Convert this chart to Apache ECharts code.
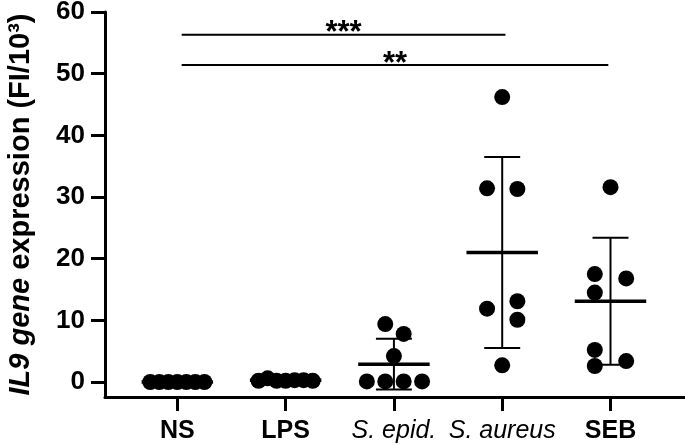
<!DOCTYPE html>
<html>
<head>
<meta charset="utf-8">
<title>IL9 gene expression</title>
<script src="https://cdn.jsdelivr.net/npm/echarts@6/dist/echarts.min.js"></script>
<style>
  html, body { margin: 0; padding: 0; background: #fff; }
  #main { width: 685px; height: 445px; }
</style>
</head>
<body>
<div id="main"></div>
<script>
// groups on the x axis (1..5)
var categories = ['NS', 'LPS', 'S. epid.', 'S. aureus', 'SEB'];
var italicCategories = ['S. epid.', 'S. aureus'];

// individual donors per group (FI/10^3)
var nsValues      = [0, 0, 0, 0, 0, 0, 0];
var lpsValues     = [0.2, 0.6, 0.2, 0.2, 0.3, 0.3, 0.2];
var sEpidValues   = [0.1, 0.1, 0.1, 0.1, 9.4, 7.8, 4.2];
var sAureusValues = [46.2, 31.4, 31.3, 11.9, 13.1, 10.1, 2.7];
var sebValues     = [31.6, 17.5, 16.8, 14.5, 5.2, 2.6, 3.4];

// horizontal scatter of the dots inside a group (x units)
var nsJitter      = [-0.25, -0.166, -0.083, 0, 0.083, 0.166, 0.25];
var lpsJitter     = [-0.25, -0.166, -0.083, 0, 0.083, 0.166, 0.25];
var sEpidJitter   = [-0.25, -0.08, 0.09, 0.26, -0.08, 0.09, 0];
var sAureusJitter = [0, -0.14, 0.14, -0.14, 0.14, 0.14, 0];
var sebJitter     = [0, -0.145, 0.145, -0.145, -0.145, -0.145, 0.145];

// mean and SD per group
var groupMeans = [0, 0.3, 2.9, 21.0, 13.1];
var groupSDs   = [0, 0.15, 4.1, 15.5, 10.3];

// y ticks
var yTicks = [0, 10, 20, 30, 40, 50, 60];

// significance brackets
var sigFrom  = [1.04, 1.04];
var sigTo    = [4.03, 4.98];
var sigLevel = [56.3, 51.4];
var sigText  = ['***', '**'];

var allValues = [nsValues, lpsValues, sEpidValues, sAureusValues, sebValues];
var allJitter = [nsJitter, lpsJitter, sEpidJitter, sAureusJitter, sebJitter];

var dots = [];
allValues.forEach(function (vals, g) {
    vals.forEach(function (v, i) {
        dots.push([g + 1 + allJitter[g][i], v]);
    });
});

var barData = groupMeans.map(function (m, g) {
    return [g + 1, m, groupSDs[g]];
});

var sigData = sigFrom.map(function (x1, i) {
    return [x1, sigTo[i], sigLevel[i]];
});

var font = "'Liberation Sans', Arial, sans-serif";

var myChart = echarts.init(document.getElementById('main'));
myChart.setOption({
    animation: false,
    grid: { left: 105, right: 0, top: 12, bottom: 48, outerBoundsMode: 'none', containLabel: false },
    xAxis: {
        type: 'value',
        min: 0.332,
        max: 5.688,
        splitLine: { show: false },
        axisLine: { onZero: false, lineStyle: { color: '#000', width: 3 } },
        axisTick: {
            customValues: [1, 2, 3, 4, 5],
            length: 14,
            lineStyle: { color: '#000', width: 3 }
        },
        axisLabel: {
            customValues: [1, 2, 3, 4, 5],
            margin: 22,
            formatter: function (v) {
                var name = categories[Math.round(v) - 1];
                return italicCategories.indexOf(name) >= 0 ? '{i|' + name + '}' : '{b|' + name + '}';
            },
            rich: {
                b: { fontFamily: font, fontSize: 25, fontWeight: 'bold', color: '#000' },
                i: { fontFamily: font, fontSize: 25, fontStyle: 'italic', color: '#000' }
            }
        }
    },
    yAxis: {
        type: 'value',
        min: -2.43,
        max: 60,
        splitLine: { show: false },
        axisLine: { show: true, onZero: false, lineStyle: { color: '#000', width: 3 } },
        axisTick: {
            show: true,
            customValues: yTicks,
            length: 14,
            lineStyle: { color: '#000', width: 3 }
        },
        axisLabel: {
            customValues: yTicks,
            margin: 20,
            color: '#000',
            fontFamily: font,
            fontSize: 26,
            fontWeight: 'bold'
        },
        name: '{i|IL9 gene }{b|expression (FI/10³)}',
        nameLocation: 'middle',
        nameRotate: 90,
        nameGap: 70,
        nameTextStyle: {
            fontSize: 29,
            rich: {
                i: { fontFamily: font, fontSize: 29, fontWeight: 'bold', fontStyle: 'italic', color: '#000' },
                b: { fontFamily: font, fontSize: 29, fontWeight: 'bold', color: '#000' }
            }
        }
    },
    series: [
        {
            type: 'scatter',
            data: dots,
            symbolSize: 16,
            itemStyle: { color: '#000', opacity: 1 },
            z: 2
        },
        {
            // mean line with SD whiskers
            type: 'custom',
            data: barData,
            z: 3,
            renderItem: function (params, api) {
                var x = api.value(0), m = api.value(1), s = api.value(2);
                var c = api.coord([x, m]);
                var top = api.coord([x, m + s]);
                var bot = api.coord([x, m - s]);
                var half = api.size([0.33, 0])[0];
                var cap = api.size([0.166, 0])[0];
                var st = { stroke: '#000', lineWidth: 2 };
                return {
                    type: 'group',
                    children: [
                        { type: 'line', shape: { x1: c[0], y1: top[1], x2: c[0], y2: bot[1] }, style: st },
                        { type: 'line', shape: { x1: c[0] - cap, y1: top[1], x2: c[0] + cap, y2: top[1] }, style: st },
                        { type: 'line', shape: { x1: c[0] - cap, y1: bot[1], x2: c[0] + cap, y2: bot[1] }, style: st },
                        { type: 'line', shape: { x1: c[0] - half, y1: c[1], x2: c[0] + half, y2: c[1] },
                          style: { stroke: '#000', lineWidth: 3.5 } }
                    ]
                };
            }
        },
        {
            // significance brackets
            type: 'custom',
            data: sigData,
            z: 3,
            renderItem: function (params, api) {
                var a = api.coord([api.value(0), api.value(2)]);
                var b = api.coord([api.value(1), api.value(2)]);
                return {
                    type: 'group',
                    children: [
                        { type: 'line', shape: { x1: a[0], y1: a[1], x2: b[0], y2: b[1] },
                          style: { stroke: '#000', lineWidth: 2 } },
                        { type: 'text', x: (a[0] + b[0]) / 2, y: a[1] - 1,
                          style: { text: sigText[params.dataIndex], fill: '#000', font: 'bold 31px ' + font,
                                   textAlign: 'center', textVerticalAlign: 'middle' } }
                    ]
                };
            }
        }
    ]
});
</script>
</body>
</html>
